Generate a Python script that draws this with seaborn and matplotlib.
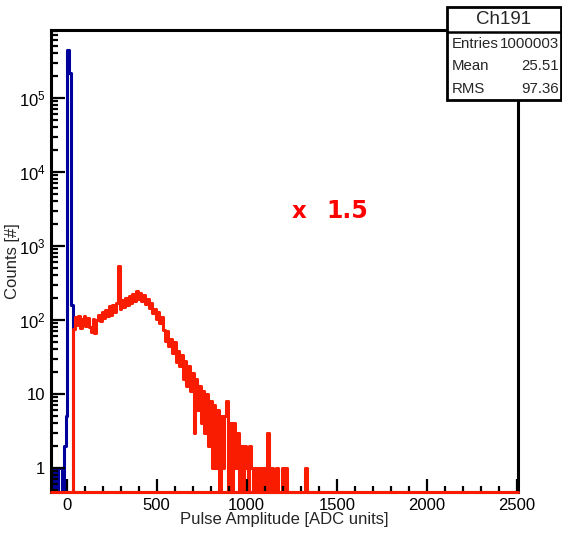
import numpy as np
import pandas as pd
import matplotlib
matplotlib.use("Agg")
import matplotlib.pyplot as plt
import seaborn as sns
from matplotlib.patches import Rectangle
from matplotlib.lines import Line2D
from matplotlib.ticker import FixedLocator, LogLocator, MultipleLocator, FuncFormatter, NullFormatter

# binning (ADC units)
bin_width = 10
blue_start = -85
red_start = 25

# blue: pedestal peak
blue_counts = [1, 0, 1, 0, 1, 1, 0, 2, 5, 450000, 220000, 160, 0]

# red: signal spectrum (x 1.5)
red_counts = [
    0,
    75, 110, 85, 112, 78, 104, 115, 84, 108, 80,
    68, 104, 66, 100, 116, 96, 130, 105, 138, 112,
    155, 118, 160, 128, 170, 540, 140, 185, 148, 196,
    160, 208, 172, 222, 180, 250, 192, 232, 178, 215,
    165, 192, 145, 168, 126, 142, 104, 128, 92, 110,
    74, 52, 70, 44, 56, 36, 50, 27, 38, 24,
    34, 16, 28, 13, 24, 11, 19, 3, 16, 6,
    13, 4, 11, 3, 10, 2, 8, 1, 7, 1,
    6, 0, 5, 1, 5, 8, 0, 4, 0, 4,
    1, 3, 0, 2, 0, 2, 1, 0, 2, 1,
    0, 1, 1, 0, 1, 0, 1, 0, 3, 0,
    1, 0, 0, 1, 0, 0, 1, 0, 1, 0,
    0, 0, 0, 0, 0, 0, 0, 0, 0, 1,
    0,
]

hist_name = "Ch191"
stats_labels = ["Entries", "Mean", "RMS"]
stats_values = ["1000003", "25.51", "97.36"]
scale_text = "1.5"

x_ticks = [0, 500, 1000, 1500, 2000, 2500]
y_ticks = [1, 10, 1e2, 1e3, 1e4, 1e5]

blue_color = "#00009c"
red_color = "#f91c00"


def make_hist(start, counts):
    centers = start + bin_width * (np.arange(len(counts)) + 0.5)
    df = pd.DataFrame({"adc": centers, "counts": counts})
    rng = (start, start + bin_width * len(counts))
    return df, rng


df_blue, blue_range = make_hist(blue_start, blue_counts)
df_red, red_range = make_hist(red_start, red_counts)

sns.set_style("ticks")
plt.rcParams["font.family"] = ["Liberation Sans", "DejaVu Sans"]
plt.rcParams["mathtext.default"] = "regular"
plt.rcParams["xtick.direction"] = "in"
plt.rcParams["ytick.direction"] = "in"
plt.rcParams["xtick.color"] = "black"
plt.rcParams["ytick.color"] = "black"

fig = plt.figure(figsize=(5.62, 5.37), dpi=100)
ax = fig.add_axes([51 / 562, 45 / 537, 467 / 562, 462 / 537])
ax.set_yscale("log")

sns.histplot(
    data=df_blue, x="adc", weights="counts", binwidth=bin_width, binrange=blue_range,
    element="step", fill=False, color=blue_color, linewidth=2.2, ax=ax
)
sns.histplot(
    data=df_red, x="adc", weights="counts", binwidth=bin_width, binrange=red_range,
    element="step", fill=False, color=red_color, linewidth=2.2, ax=ax
)

ax.set_xlim(-86, 2505)
ax.set_ylim(0.474, 8.3e5)

# empty bins sit on the floor of the log axis
ax.axhline(ax.get_ylim()[0], color=red_color, linewidth=2.2, zorder=3, clip_on=False)

ax.xaxis.set_major_locator(FixedLocator(x_ticks))
ax.xaxis.set_minor_locator(MultipleLocator(100))
ax.yaxis.set_major_locator(FixedLocator(y_ticks))
ax.yaxis.set_minor_locator(LogLocator(base=10, subs=np.arange(2, 10), numticks=30))
ax.yaxis.set_minor_formatter(NullFormatter())


def y_fmt(v, pos):
    if v < 5:
        return "1"
    if v < 50:
        return "10"
    return "$10^{%d}$" % round(np.log10(v))


ax.yaxis.set_major_formatter(FuncFormatter(y_fmt))

ax.tick_params(axis="both", which="both", direction="in", width=1.6, color="black",
               bottom=True, left=True, top=False, right=False,
               labelsize=12, pad=4, zorder=4)
ax.tick_params(axis="x", which="major", length=9.5)
ax.tick_params(axis="x", which="minor", length=4.3)
ax.tick_params(axis="y", which="major", length=10)
ax.tick_params(axis="y", which="minor", length=5)
ax.set_axisbelow(False)

for sp in ax.spines.values():
    sp.set_linewidth(2.2)
    sp.set_color("black")

ax.set_xlabel("Pulse Amplitude [ADC units]", fontsize=12)
ax.set_ylabel("Counts [#]", fontsize=12)
ax.xaxis.set_label_coords(0.5, -0.043)
ax.yaxis.set_label_coords(-0.066, 0.5)

ax.text(0.515, 0.608, "x", transform=ax.transAxes, color="red", family="DejaVu Sans",
        fontsize=16.5, fontweight="bold", va="center", ha="left")
ax.text(0.59, 0.608, scale_text, transform=ax.transAxes, color="red", family="DejaVu Sans",
        fontsize=17, fontweight="bold", va="center", ha="left")

# stats box
x0, x1 = 447 / 562, 561 / 562
y0, y1 = 1 - 100 / 537, 1 - 7 / 537
ysep = 1 - 32 / 537
fig.add_artist(Rectangle((x0, y0), x1 - x0, y1 - y0, transform=fig.transFigure,
                         facecolor="white", edgecolor="black", linewidth=2, zorder=5))
fig.add_artist(Line2D([x0, x1], [ysep, ysep], transform=fig.transFigure,
                      color="black", linewidth=1.8, zorder=6))
fig.text((x0 + x1) / 2, 1 - 20 / 537, hist_name, ha="center", va="center",
         fontsize=13.5, zorder=7)
for i, (lab, val) in enumerate(zip(stats_labels, stats_values)):
    yy = 1 - (44 + i * 22.5) / 537
    fig.text(452 / 562, yy, lab, ha="left", va="center", fontsize=10.8, zorder=7)
    fig.text(559 / 562, yy, val, ha="right", va="center", fontsize=10.8, zorder=7)

fig.savefig("out.png", dpi=100)
